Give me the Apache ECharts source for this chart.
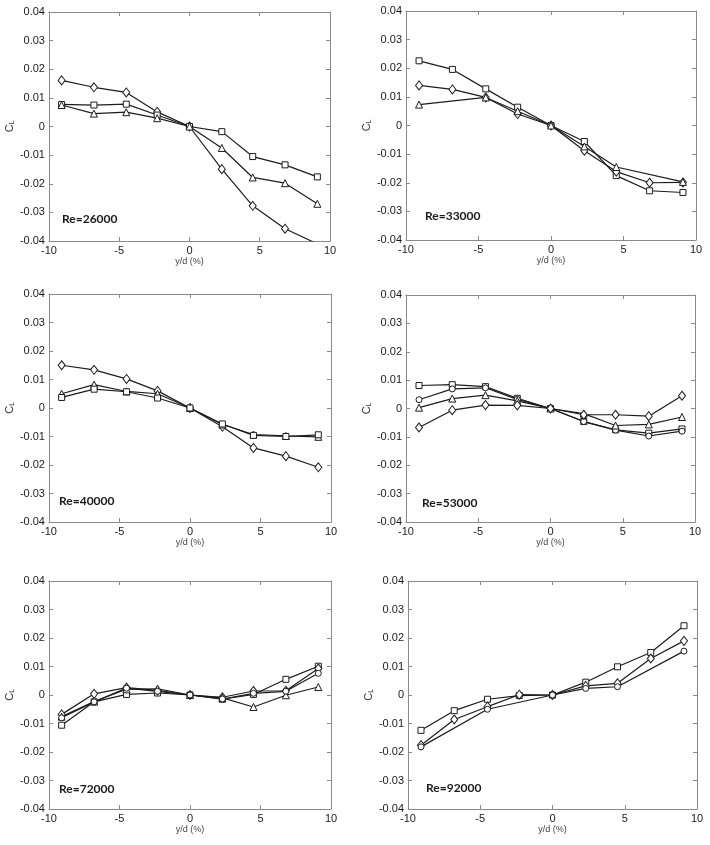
<!DOCTYPE html>
<html>
<head>
<meta charset="utf-8">
<script src="https://cdn.jsdelivr.net/npm/echarts@6/dist/echarts.min.js"></script>
<style>
html,body{margin:0;padding:0;background:#fff;}
#chart{width:710px;height:845px;}
</style>
</head>
<body>
<div id="chart"></div>
<script>
// x positions y/d (%)
const xPos = [-9.1, -6.8, -4.5, -2.3, 0, 2.3, 4.5, 6.8, 9.1];
const xTicks = [-10, -5, 0, 5, 10];
const xTickLabels = ['-10', '-5', '0', '5', '10'];
const yTicks = [-0.04, -0.03, -0.02, -0.01, 0, 0.01, 0.02, 0.03, 0.04];
const yTickLabels = ['-0.04', '-0.03', '-0.02', '-0.01', '0', '0.01', '0.02', '0.03', '0.04'];
const panelTitles = ['Re=26000', 'Re=33000', 'Re=40000', 'Re=53000', 'Re=72000', 'Re=92000'];

// Re=26000
const p1Diamond  = [0.0161, 0.0137, 0.0119, 0.0051, 0, -0.0149, -0.0277, -0.0357, -0.0410];
const p1Square   = [0.0077, 0.0075, 0.0078, 0.0040, 0, -0.0018, -0.0105, -0.0134, -0.0176];
const p1Triangle = [0.0075, 0.0045, 0.0050, 0.0029, 0, -0.0075, -0.0178, -0.0198, -0.0270];
// Re=33000
const p2Square   = [0.0226, 0.0196, 0.0128, 0.0064, 0, -0.0056, -0.0175, -0.0228, -0.0234];
const p2Diamond  = [0.0140, 0.0126, 0.0098, 0.0040, 0, -0.0088, -0.0161, -0.0200, -0.0199];
const p2Triangle = [0.0073, null, 0.0098, 0.0050, 0, -0.0073, -0.0145, null, -0.0197];
// Re=40000
const p3Diamond  = [0.0150, 0.0134, 0.0102, 0.0060, 0, -0.0066, -0.0140, -0.0169, -0.0208];
const p3Triangle = [0.0050, 0.0082, 0.0058, 0.0050, 0, -0.0058, -0.0093, -0.0098, -0.0101];
const p3Square   = [0.0037, 0.0066, 0.0057, 0.0035, 0, -0.0056, -0.0096, -0.0100, -0.0094];
// Re=53000
const p4Square   = [0.0081, 0.0084, 0.0077, 0.0036, 0, -0.0046, -0.0075, -0.0087, -0.0072];
const p4Circle   = [0.0031, 0.0069, 0.0073, 0.0032, 0, -0.0046, -0.0076, -0.0097, -0.0080];
const p4Triangle = [0.0003, 0.0035, 0.0047, 0.0027, 0, -0.0018, -0.0060, -0.0056, -0.0030];
const p4Diamond  = [-0.0067, -0.0006, 0.0012, 0.0011, 0, -0.0022, -0.0022, -0.0027, 0.0045];
// Re=72000
const p5Square   = [-0.0106, -0.0024, 0.0002, 0.0007, 0, -0.0015, 0.0002, 0.0055, 0.0101];
const p5Diamond  = [-0.0068, 0.0004, 0.0026, 0.0016, 0, -0.0008, 0.0014, 0.0015, 0.0093];
const p5Triangle = [-0.0076, -0.0023, 0.0020, 0.0022, 0, -0.0010, -0.0042, -0.0001, 0.0028];
const p5Circle   = [-0.0080, -0.0024, 0.0024, 0.0013, 0, -0.0014, 0.0006, 0.0013, 0.0076];
// Re=92000
const p6Square   = [-0.0124, -0.0055, -0.0015, -0.0002, 0, 0.0045, 0.0099, 0.0149, 0.0243];
const p6Diamond  = [-0.0176, -0.0086, -0.0041, 0.0001, 0, 0.0032, 0.0041, 0.0128, 0.0190];
const p6Circle   = [-0.0182, null, -0.0050, null, 0, 0.0023, 0.0029, null, 0.0154];

const panelSeries = [
  [['diamond', p1Diamond], ['square', p1Square], ['triangle', p1Triangle]],
  [['square', p2Square], ['diamond', p2Diamond], ['triangle', p2Triangle]],
  [['diamond', p3Diamond], ['triangle', p3Triangle], ['square', p3Square]],
  [['square', p4Square], ['circle', p4Circle], ['triangle', p4Triangle], ['diamond', p4Diamond]],
  [['square', p5Square], ['diamond', p5Diamond], ['triangle', p5Triangle], ['circle', p5Circle]],
  [['square', p6Square], ['diamond', p6Diamond], ['circle', p6Circle]]
];

// layout (px)
const grids = [
  {left: 40, top: 12, width: 290, height: 229},
  {left: 406, top: 11, width: 290, height: 229},
  {left: 42, top: 294, width: 289, height: 228},
  {left: 406, top: 295, width: 289, height: 227},
  {left: 42, top: 581, width: 289, height: 228},
  {left: 408, top: 581, width: 289, height: 228}
];
const titlePos = [
  {left: 62, top: 213}, {left: 425, top: 210},
  {left: 59, top: 495}, {left: 422, top: 497},
  {left: 59, top: 783}, {left: 426, top: 782}
];

const axisColor = '#8a8a8a';
const labelFont = "'Liberation Sans Narrow', 'Liberation Sans', Arial, sans-serif";
const symbolSizes = {diamond: [7, 9], square: 6, triangle: 7, circle: 6};

function yLabel(v) {
  const i = yTicks.findIndex(t => Math.abs(t - v) < 1e-9);
  return i >= 0 ? yTickLabels[i] : '';
}
function xLabel(v) {
  const i = xTicks.findIndex(t => Math.abs(t - v) < 1e-9);
  return i >= 0 ? xTickLabels[i] : '';
}

const option = {
  backgroundColor: '#fff',
  animation: false,
  grid: [], xAxis: [], yAxis: [], series: [], title: []
};

grids.forEach((g, i) => {
  option.grid.push(Object.assign({containLabel: false}, g));
  const common = {
    gridIndex: i,
    type: 'value',
    axisLine: {show: true, onZero: false, lineStyle: {color: axisColor, width: 1}},
    axisTick: {show: true, inside: true, length: 4, lineStyle: {color: axisColor}},
    splitLine: {show: false}
  };
  // bottom x
  option.xAxis.push(Object.assign({}, common, {
    position: 'bottom', min: -10, max: 10, interval: 5,
    axisLabel: {formatter: xLabel, color: '#1a1a1a', fontSize: 11, fontFamily: labelFont, margin: 4},
    name: 'y/d (%)', nameLocation: 'middle', nameGap: 13,
    nameTextStyle: {color: '#444', fontSize: 9, fontFamily: "'Liberation Sans', Arial, sans-serif"}
  }));
  // top x (ticks only)
  option.xAxis.push(Object.assign({}, common, {
    position: 'top', min: -10, max: 10, interval: 5, axisLabel: {show: false}
  }));
  // left y
  option.yAxis.push(Object.assign({}, common, {
    position: 'left', min: -0.04, max: 0.04, interval: 0.01,
    axisLabel: {formatter: yLabel, color: '#1a1a1a', fontSize: 11, fontFamily: labelFont, margin: 4},
    name: '{c|C}{l|L}', nameLocation: 'middle', nameGap: 31, nameRotate: 90,
    nameTextStyle: {
      color: '#333', fontFamily: "'Liberation Sans', Arial, sans-serif",
      rich: {
        c: {fontSize: 11, color: '#333', fontFamily: "'Liberation Sans', Arial, sans-serif", lineHeight: 12, verticalAlign: 'top'},
        l: {fontSize: 6.5, color: '#333', fontFamily: "'Liberation Sans', Arial, sans-serif", lineHeight: 12, verticalAlign: 'bottom', padding: [8, 0, 0, 0]}
      }
    }
  }));
  // right y (ticks only)
  option.yAxis.push(Object.assign({}, common, {
    position: 'right', min: -0.04, max: 0.04, interval: 0.01, axisLabel: {show: false}
  }));

  panelSeries[i].forEach(([sym, vals]) => {
    option.series.push({
      type: 'line',
      xAxisIndex: 2 * i,
      yAxisIndex: 2 * i,
      data: xPos.map((x, k) => [x, vals[k]]),
      connectNulls: true,
      clip: true,
      symbol: sym,
      symbolSize: symbolSizes[sym],
      showAllSymbol: true,
      lineStyle: {color: '#1c1c1c', width: 1.2},
      itemStyle: {color: '#ffffff', borderColor: '#1c1c1c', borderWidth: 1},
      emphasis: {disabled: true}
    });
  });

  option.title.push({
    text: panelTitles[i],
    left: titlePos[i].left, top: titlePos[i].top, padding: 0,
    textStyle: {fontFamily: 'Lato, "Open Sans", sans-serif', fontWeight: 'bold', fontSize: 12, color: '#1a1a1a'}
  });
});

const chart = echarts.init(document.getElementById('chart'), null, {renderer: 'canvas'});
chart.setOption(option);
</script>
</body>
</html>
